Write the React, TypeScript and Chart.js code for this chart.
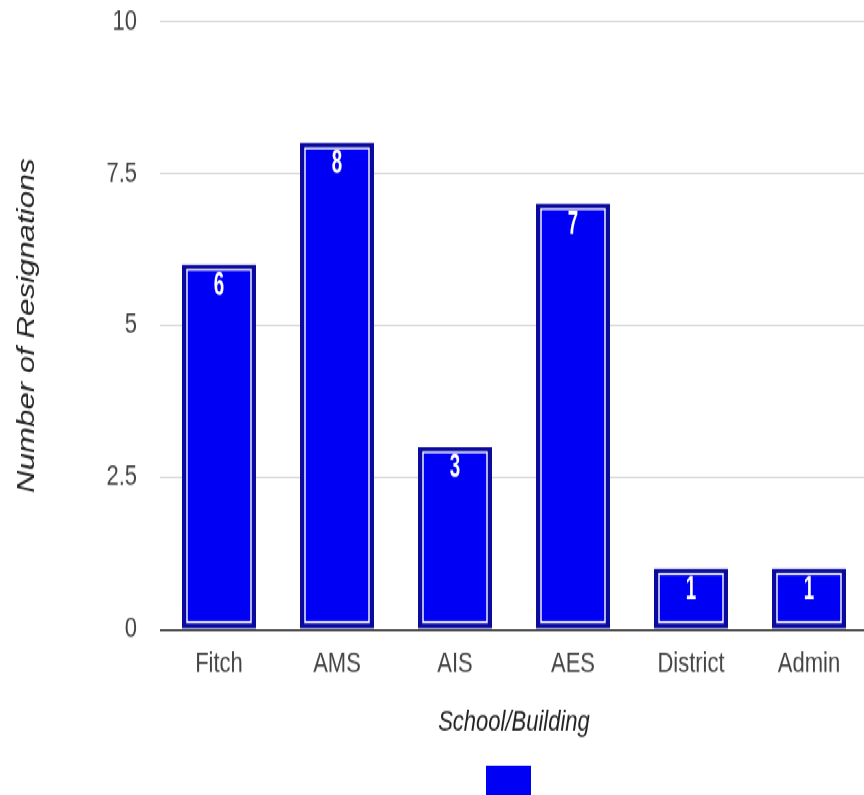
import React, { useEffect, useRef } from "react";
import { Chart, registerables } from "chart.js";

Chart.register(...registerables);

const categories = ["Fitch", "AMS", "AIS", "AES", "District", "Admin"];
const resignations = [6, 8, 3, 7, 1, 1];
const yTickValues = [0, 2.5, 5, 7.5, 10];
const yTitle = "Number of Resignations";
const xTitle = "School/Building";

const FONT = "'Liberation Sans', Arial, sans-serif";
const SCALE_Y = 1.3;
const W = 872;
const H = 644;

const barDecor = {
  id: "barDecor",
  afterDatasetsDraw(chart: any) {
    const ctx = chart.ctx;
    const meta = chart.getDatasetMeta(0);
    meta.data.forEach((el: any, i: number) => {
      const { x, y, base, width } = el.getProps(["x", "y", "base", "width"], true);
      const left = x - width / 2;
      const inset = 5;
      ctx.save();
      ctx.strokeStyle = "#ffffff";
      ctx.lineWidth = 1.4;
      ctx.strokeRect(left + inset, y + inset - 1, width - inset * 2, base - y - inset * 2 + 1);
      ctx.translate(x, y + 16);
      ctx.scale(0.72, 1);
      ctx.fillStyle = "#ffffff";
      ctx.font = `bold 26px ${FONT}`;
      ctx.textAlign = "center";
      ctx.textBaseline = "middle";
      ctx.fillText(String(chart.data.datasets[0].data[i]), 0, 0);
      ctx.restore();
    });
  },
};

export default function App() {
  const ref = useRef<HTMLCanvasElement | null>(null);
  useEffect(() => {
    if (!ref.current) return;
    const chart = new Chart(ref.current, {
      type: "bar",
      data: {
        labels: categories,
        datasets: [
          {
            label: "",
            data: resignations,
            backgroundColor: "#0000f5",
            borderColor: "#0a0a9e",
            borderWidth: 4,
            borderSkipped: false,
            categoryPercentage: 1,
            barPercentage: 0.627,
          },
        ],
      },
      options: {
        responsive: false,
        animation: false,
        devicePixelRatio: 1,
        layout: { padding: { top: 0, right: 4, left: 0, bottom: 0 } },
        plugins: {
          tooltip: { enabled: false },
          legend: {
            display: true,
            position: "bottom",
            fullSize: false,
            labels: {
              boxWidth: 45,
              boxHeight: 45,
              padding: 10,
              font: { family: FONT, size: 22 },
              generateLabels: () => [
                {
                  text: "",
                  fillStyle: "#0000f5",
                  strokeStyle: "#0000f5",
                  lineWidth: 0,
                  datasetIndex: 0,
                } as any,
              ],
            },
          },
        },
        scales: {
          x: {
            grid: { display: false, drawTicks: false },
            border: { display: false },
            ticks: {
              color: "#444444",
              font: { family: FONT, size: 22 },
              padding: 13,
              maxRotation: 0,
              autoSkip: false,
            },
            title: {
              display: true,
              text: xTitle,
              color: "#222222",
              font: { family: FONT, size: 22, style: "italic" },
              padding: { top: 0, bottom: 10 },
            },
            afterFit: (s: any) => {
              s.height = 94.7;
            },
          },
          y: {
            min: 0,
            max: 10,
            border: { display: false },
            grid: {
              drawTicks: false,
              color: (c: any) => (c.tick && c.tick.value === 0 ? "#333333" : "#cccccc"),
              lineWidth: (c: any) => (c.tick && c.tick.value === 0 ? 1.5 : 1),
            },
            afterBuildTicks: (s: any) => {
              s.ticks = yTickValues.map((v) => ({ value: v }));
            },
            ticks: {
              color: "#444444",
              font: { family: FONT, size: 22 },
              padding: 23,
            },
            title: {
              display: true,
              text: yTitle,
              color: "#222222",
              font: { family: FONT, size: 24, style: "italic" },
              padding: { top: 13, bottom: 0 },
            },
            afterFit: (s: any) => {
              s.width = 160;
              s.paddingTop = 16.5;
              s.paddingBottom = 0;
            },
          },
        },
      },
      plugins: [barDecor],
    });
    return () => chart.destroy();
  }, []);

  return (
    <div
      style={{
        position: "fixed",
        left: 0,
        top: 0,
        width: W,
        height: H,
        transform: `scaleY(${SCALE_Y})`,
        transformOrigin: "0 0",
        background: "#ffffff",
      }}
    >
      <canvas ref={ref} width={W} height={H} style={{ width: W, height: H, display: "block" }} />
    </div>
  );
}
